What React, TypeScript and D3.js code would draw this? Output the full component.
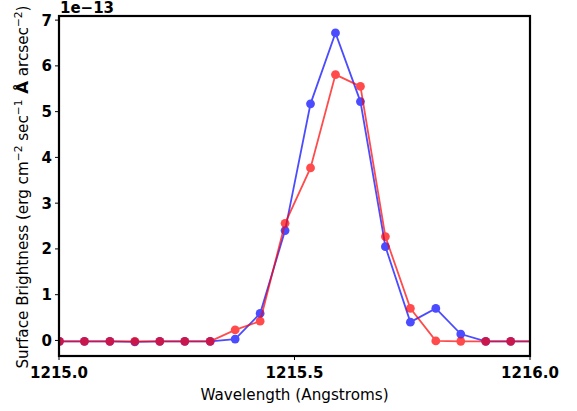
import React from "react";
import * as d3 from "d3";

const wavelengths = [
  1215.001, 1215.054, 1215.108, 1215.161, 1215.214, 1215.267, 1215.321,
  1215.374, 1215.427, 1215.48, 1215.534, 1215.587, 1215.64, 1215.693,
  1215.746, 1215.8, 1215.853, 1215.906, 1215.959, 1216.012,
];
const blueSeries = [
  -0.02, -0.02, -0.02, -0.03, -0.02, -0.02, -0.02, 0.03, 0.59, 2.4, 5.17,
  6.72, 5.22, 2.05, 0.4, 0.7, 0.14, -0.02, -0.02, -0.02,
];
const redSeries = [
  -0.02, -0.02, -0.02, -0.02, -0.02, -0.02, -0.02, 0.23, 0.42, 2.56, 3.77,
  5.81, 5.55, 2.27, 0.7, -0.01, -0.02, -0.02, -0.02, -0.02,
];
const xTicks = [1215.0, 1215.5, 1216.0];
const yTicks = [0, 1, 2, 3, 4, 5, 6, 7];

const W = 577;
const H = 411;
const left = 59;
const right = 530;
const top = 16;
const bottom = 356;

export default function App() {
  const x = d3.scaleLinear().domain([1215.0, 1216.0]).range([left, right]);
  const y = d3.scaleLinear().domain([-0.34, 7.09]).range([bottom, top]);
  const line = d3
    .line<number>()
    .x((_, i) => x(wavelengths[i]))
    .y((d) => y(d));
  const series = [
    { vals: blueSeries, color: "rgb(0,0,255)" },
    { vals: redSeries, color: "rgb(255,0,0)" },
  ];
  const font = "DejaVu Sans, sans-serif";
  return (
    <svg
      width={W}
      height={H}
      style={{ position: "absolute", left: 0, top: 0 }}
      fontFamily={font}
    >
      <rect width={W} height={H} fill="white" />
      <defs>
        <clipPath id="plotclip">
          <rect x={left} y={top} width={right - left} height={bottom - top} />
        </clipPath>
      </defs>
      <g clipPath="url(#plotclip)">
        {series.map((s, si) => (
          <g key={si} opacity={0.7}>
            <path d={line(s.vals) || ""} fill="none" stroke={s.color} strokeWidth={1.8} />
            {s.vals.map((v, i) => (
              <circle key={i} cx={x(wavelengths[i])} cy={y(v)} r={4.4} fill={s.color} />
            ))}
          </g>
        ))}
      </g>
      <rect
        x={left}
        y={top}
        width={right - left}
        height={bottom - top}
        fill="none"
        stroke="black"
        strokeWidth={2.2}
      />
      {xTicks.map((t) => (
        <g key={t}>
          <line x1={x(t)} x2={x(t)} y1={bottom} y2={bottom + 4} stroke="black" strokeWidth={1} />
          <text x={x(t)} y={378} textAnchor="middle" fontSize={15} fontWeight="bold">
            {t.toFixed(1)}
          </text>
        </g>
      ))}
      {yTicks.map((t) => (
        <g key={t}>
          <line x1={left - 4} x2={left} y1={y(t)} y2={y(t)} stroke="black" strokeWidth={1} />
          <text x={left - 7} y={y(t) + 5.5} textAnchor="end" fontSize={15} fontWeight="bold">
            {t}
          </text>
        </g>
      ))}
      <text x={left + 1} y={13} fontSize={15} fontWeight="bold">
        1e−13
      </text>
      <text x={(left + right) / 2} y={400} textAnchor="middle" fontSize={15.2}>
        Wavelength (Angstroms)
      </text>
      <text
        transform={`translate(28,${(top + bottom) / 2 + 1}) rotate(-90)`}
        textAnchor="middle"
        fontSize={15.2}
      >
        Surface Brightness (erg cm
        <tspan dy={-6.5} fontSize={10.6}>−2</tspan>
        <tspan dy={6.5}> sec</tspan>
        <tspan dy={-6.5} fontSize={10.6}>−1</tspan>
        <tspan dy={6.5} fontWeight="bold" fontSize={16.5}> Å</tspan>
        <tspan fontSize={15.2}> arcsec</tspan>
        <tspan dy={-6.5} fontSize={10.6}>−2</tspan>
        <tspan dy={6.5}>)</tspan>
      </text>
    </svg>
  );
}
